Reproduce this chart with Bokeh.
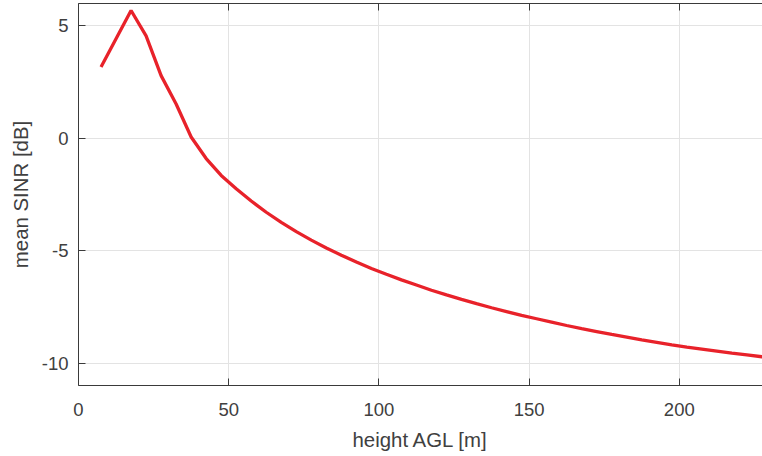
from bokeh.plotting import figure
from bokeh.models import LinearAxis, FixedTicker, Range1d, NumeralTickFormatter
from bokeh.embed import file_html
from bokeh.resources import INLINE

# data: mean SINR vs height
height_m = [7.5, 12.5, 17.5, 22.5, 27.5, 32.5, 37.5, 42.5, 47.5, 52.5,
            57.5, 62.5, 67.5, 72.5, 77.5, 82.5, 87.5, 92.5, 97.5, 102.5,
            107.5, 112.5, 117.5, 122.5, 127.5, 132.5, 137.5, 142.5, 147.5, 152.5,
            157.5, 162.5, 167.5, 172.5, 177.5, 182.5, 187.5, 192.5, 197.5, 202.5,
            207.5, 212.5, 217.5, 222.5, 227.5, 232.5]
sinr_db = [3.17, 4.43, 5.69, 4.56, 2.79, 1.53, 0.06, -0.90, -1.65, -2.24,
           -2.79, -3.29, -3.74, -4.15, -4.53, -4.88, -5.20, -5.50, -5.79, -6.05,
           -6.30, -6.53, -6.76, -6.97, -7.17, -7.36, -7.54, -7.71, -7.88, -8.03,
           -8.18, -8.33, -8.47, -8.60, -8.73, -8.85, -8.97, -9.08, -9.19, -9.29,
           -9.38, -9.47, -9.56, -9.64, -9.72, -9.79]
x_ticks = [0, 50, 100, 150, 200]
y_ticks = [-10, -5, 0, 5]

TEXT = "#404040"
AX = "#3a3a3a"
FONT = "Liberation Sans"

p = figure(width=762, height=456, output_backend="svg", toolbar_location=None,
           x_range=Range1d(0, 227.7), y_range=Range1d(-11, 6),
           min_border_left=78, min_border_right=0, min_border_top=3,
           min_border_bottom=71, x_axis_label="height AGL [m]",
           y_axis_label="mean SINR [dB]")
p.outline_line_color = None
p.background_fill_color = "white"
p.border_fill_color = "white"

p.line(height_m, sinr_db, line_color="#e8222a", line_width=3.3)

for ax in (p.xaxis[0], p.yaxis[0]):
    ax.major_tick_in = 7
    ax.major_tick_out = 0
    ax.minor_tick_in = 0
    ax.minor_tick_out = 0
    ax.axis_line_color = AX
    ax.major_tick_line_color = AX
    ax.major_label_text_color = TEXT
    ax.major_label_text_font = FONT
    ax.major_label_text_font_size = "18.5px"
    ax.axis_label_text_color = TEXT
    ax.axis_label_text_font = FONT
    ax.axis_label_text_font_size = "20.4px"
    ax.axis_label_text_font_style = "normal"
    ax.formatter = NumeralTickFormatter(format="0")

p.xaxis[0].ticker = FixedTicker(ticks=x_ticks)
p.yaxis[0].ticker = FixedTicker(ticks=y_ticks)
p.xaxis[0].major_label_standoff = 17
p.xaxis[0].axis_label_standoff = 10
p.yaxis[0].major_label_standoff = 10
p.yaxis[0].axis_label_standoff = 7

top = LinearAxis(ticker=FixedTicker(ticks=x_ticks), major_label_text_font_size="0px",
                 major_label_standoff=0, major_tick_in=7, major_tick_out=0,
                 minor_tick_in=0, minor_tick_out=0, axis_line_color=AX,
                 major_tick_line_color=AX, major_label_text_alpha=0)
p.add_layout(top, "above")

p.xgrid.ticker = FixedTicker(ticks=x_ticks)
p.ygrid.ticker = FixedTicker(ticks=y_ticks)
p.grid.grid_line_color = "#e3e3e3"
p.grid.grid_line_width = 1

open("out.html", "w").write(file_html(p, INLINE))
